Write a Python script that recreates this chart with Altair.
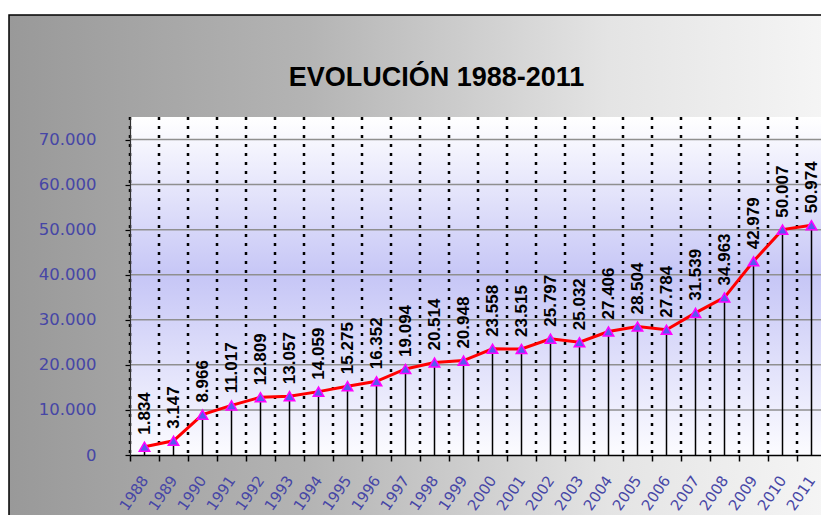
import altair as alt
import pandas as pd

TITLE = "EVOLUCIÓN 1988-2011"
YEARS = ["1988", "1989", "1990", "1991", "1992", "1993", "1994", "1995",
         "1996", "1997", "1998", "1999", "2000", "2001", "2002", "2003",
         "2004", "2005", "2006", "2007", "2008", "2009", "2010", "2011"]
VALUES = [1834, 3147, 8966, 11017, 12809, 13057, 14059, 15275,
          16352, 19094, 20514, 20948, 23558, 23515, 25797, 25032,
          27406, 28504, 27784, 31539, 34963, 42979, 50007, 50974]
Y_TICKS = [0, 10000, 20000, 30000, 40000, 50000, 60000, 70000]
GRID_LINES = [10000, 20000, 30000, 40000, 50000, 60000, 70000]

W, H = 696, 338

df = pd.DataFrame({
    "year": YEARS,
    "value": VALUES,
    "label": [f"{v:,}".replace(",", ".") for v in VALUES],
})
one = pd.DataFrame({"t": [TITLE]})
grid_df = pd.DataFrame({"v": GRID_LINES})

x_scale = alt.Scale(domain=YEARS, paddingInner=0, paddingOuter=0)
y_scale = alt.Scale(domain=[0, 75000], nice=False)

LABEL_COLOR = "#4646a6"

x_axis = alt.Axis(title=None, labelAngle=-55, labelAlign="right", labelBaseline="middle",
                  labelFont="DejaVu Sans", labelFontSize=15, labelColor=LABEL_COLOR,
                  labelPadding=16, tickBand="extent", tickSize=6, tickColor="black",
                  tickWidth=1.5, domainColor="black", domainWidth=1.5, grid=False,
                  zindex=1, labelOverlap=False)
y_axis = alt.Axis(title=None, values=Y_TICKS,
                  labelExpr="replace(format(datum.value, ','), ',', '.')",
                  labelFont="DejaVu Sans", labelFontSize=16.5, labelColor=LABEL_COLOR,
                  labelPadding=29, tickSize=5, tickColor="black", tickWidth=1.2,
                  domainColor="#333333", domainWidth=1.2, grid=False, zindex=1)


def X(field, **kw):
    return alt.X(field, type="nominal", scale=x_scale, axis=x_axis, sort=YEARS, **kw)


def Y(field):
    return alt.Y(field, type="quantitative", scale=y_scale, axis=y_axis)


frame_grad = alt.Gradient(
    gradient="linear", x1=0, x2=1, y1=0, y2=0,
    stops=[alt.GradientStop(color="#999999", offset=0),
           alt.GradientStop(color="#b4b4b4", offset=0.35),
           alt.GradientStop(color="#e4e4e4", offset=0.7),
           alt.GradientStop(color="#f8f8f8", offset=1)])
plot_grad = alt.Gradient(
    gradient="linear", x1=0, x2=0, y1=0, y2=1,
    stops=[alt.GradientStop(color="#ffffff", offset=0),
           alt.GradientStop(color="#c6c6f6", offset=0.47),
           alt.GradientStop(color="#fcfcff", offset=1)])

frame = alt.Chart(one).mark_rect(fill=frame_grad, stroke="black", strokeWidth=1.5).encode(
    x=alt.value(-121), x2=alt.value(W + 40), y=alt.value(-102), y2=alt.value(H + 120))

plot_bg = alt.Chart(one).mark_rect(fill=plot_grad).encode(
    x=alt.value(0), x2=alt.value(W), y=alt.value(0), y2=alt.value(H))

title = alt.Chart(one).mark_text(font="Liberation Sans", fontSize=27, fontWeight="bold",
                                 align="center", baseline="alphabetic", color="black").encode(
    text="t:N", x=alt.value(306.5), y=alt.value(-31))

hgrid = alt.Chart(grid_df).mark_rule(color="#8f8f8f", strokeWidth=1.5).encode(y=Y("v"))

base = alt.Chart(df)

vgrid = base.mark_rule(color="black", strokeWidth=2.5, strokeDash=[3, 6]).encode(
    x=X("year", bandPosition=0))

drops = base.mark_rule(color="black", strokeWidth=1.5).encode(
    x=X("year"), y=Y("value"), y2=alt.datum(0))

line = base.mark_line(color="#ff0000", strokeWidth=3).encode(x=X("year"), y=Y("value"))

points = base.mark_point(shape="triangle-up", filled=True, fill="#5858f0", stroke="#ff00ff",
                         strokeWidth=1.5, size=110, opacity=1).encode(x=X("year"), y=Y("value"))

labels = base.mark_text(angle=270, align="left", baseline="middle", dx=12,
                        font="Liberation Sans", fontWeight="bold", fontSize=17,
                        color="black").encode(x=X("year"), y=Y("value"), text="label:N")

chart = alt.layer(frame, plot_bg, title, hgrid, vgrid, drops, line, points, labels).properties(
    width=W, height=H, autosize="none",
    padding={"left": 122, "top": 109, "right": -5, "bottom": 60},
    background="white",
).configure_view(stroke=None)

chart.save("out.html", embed_options={"renderer": "svg", "actions": False})
